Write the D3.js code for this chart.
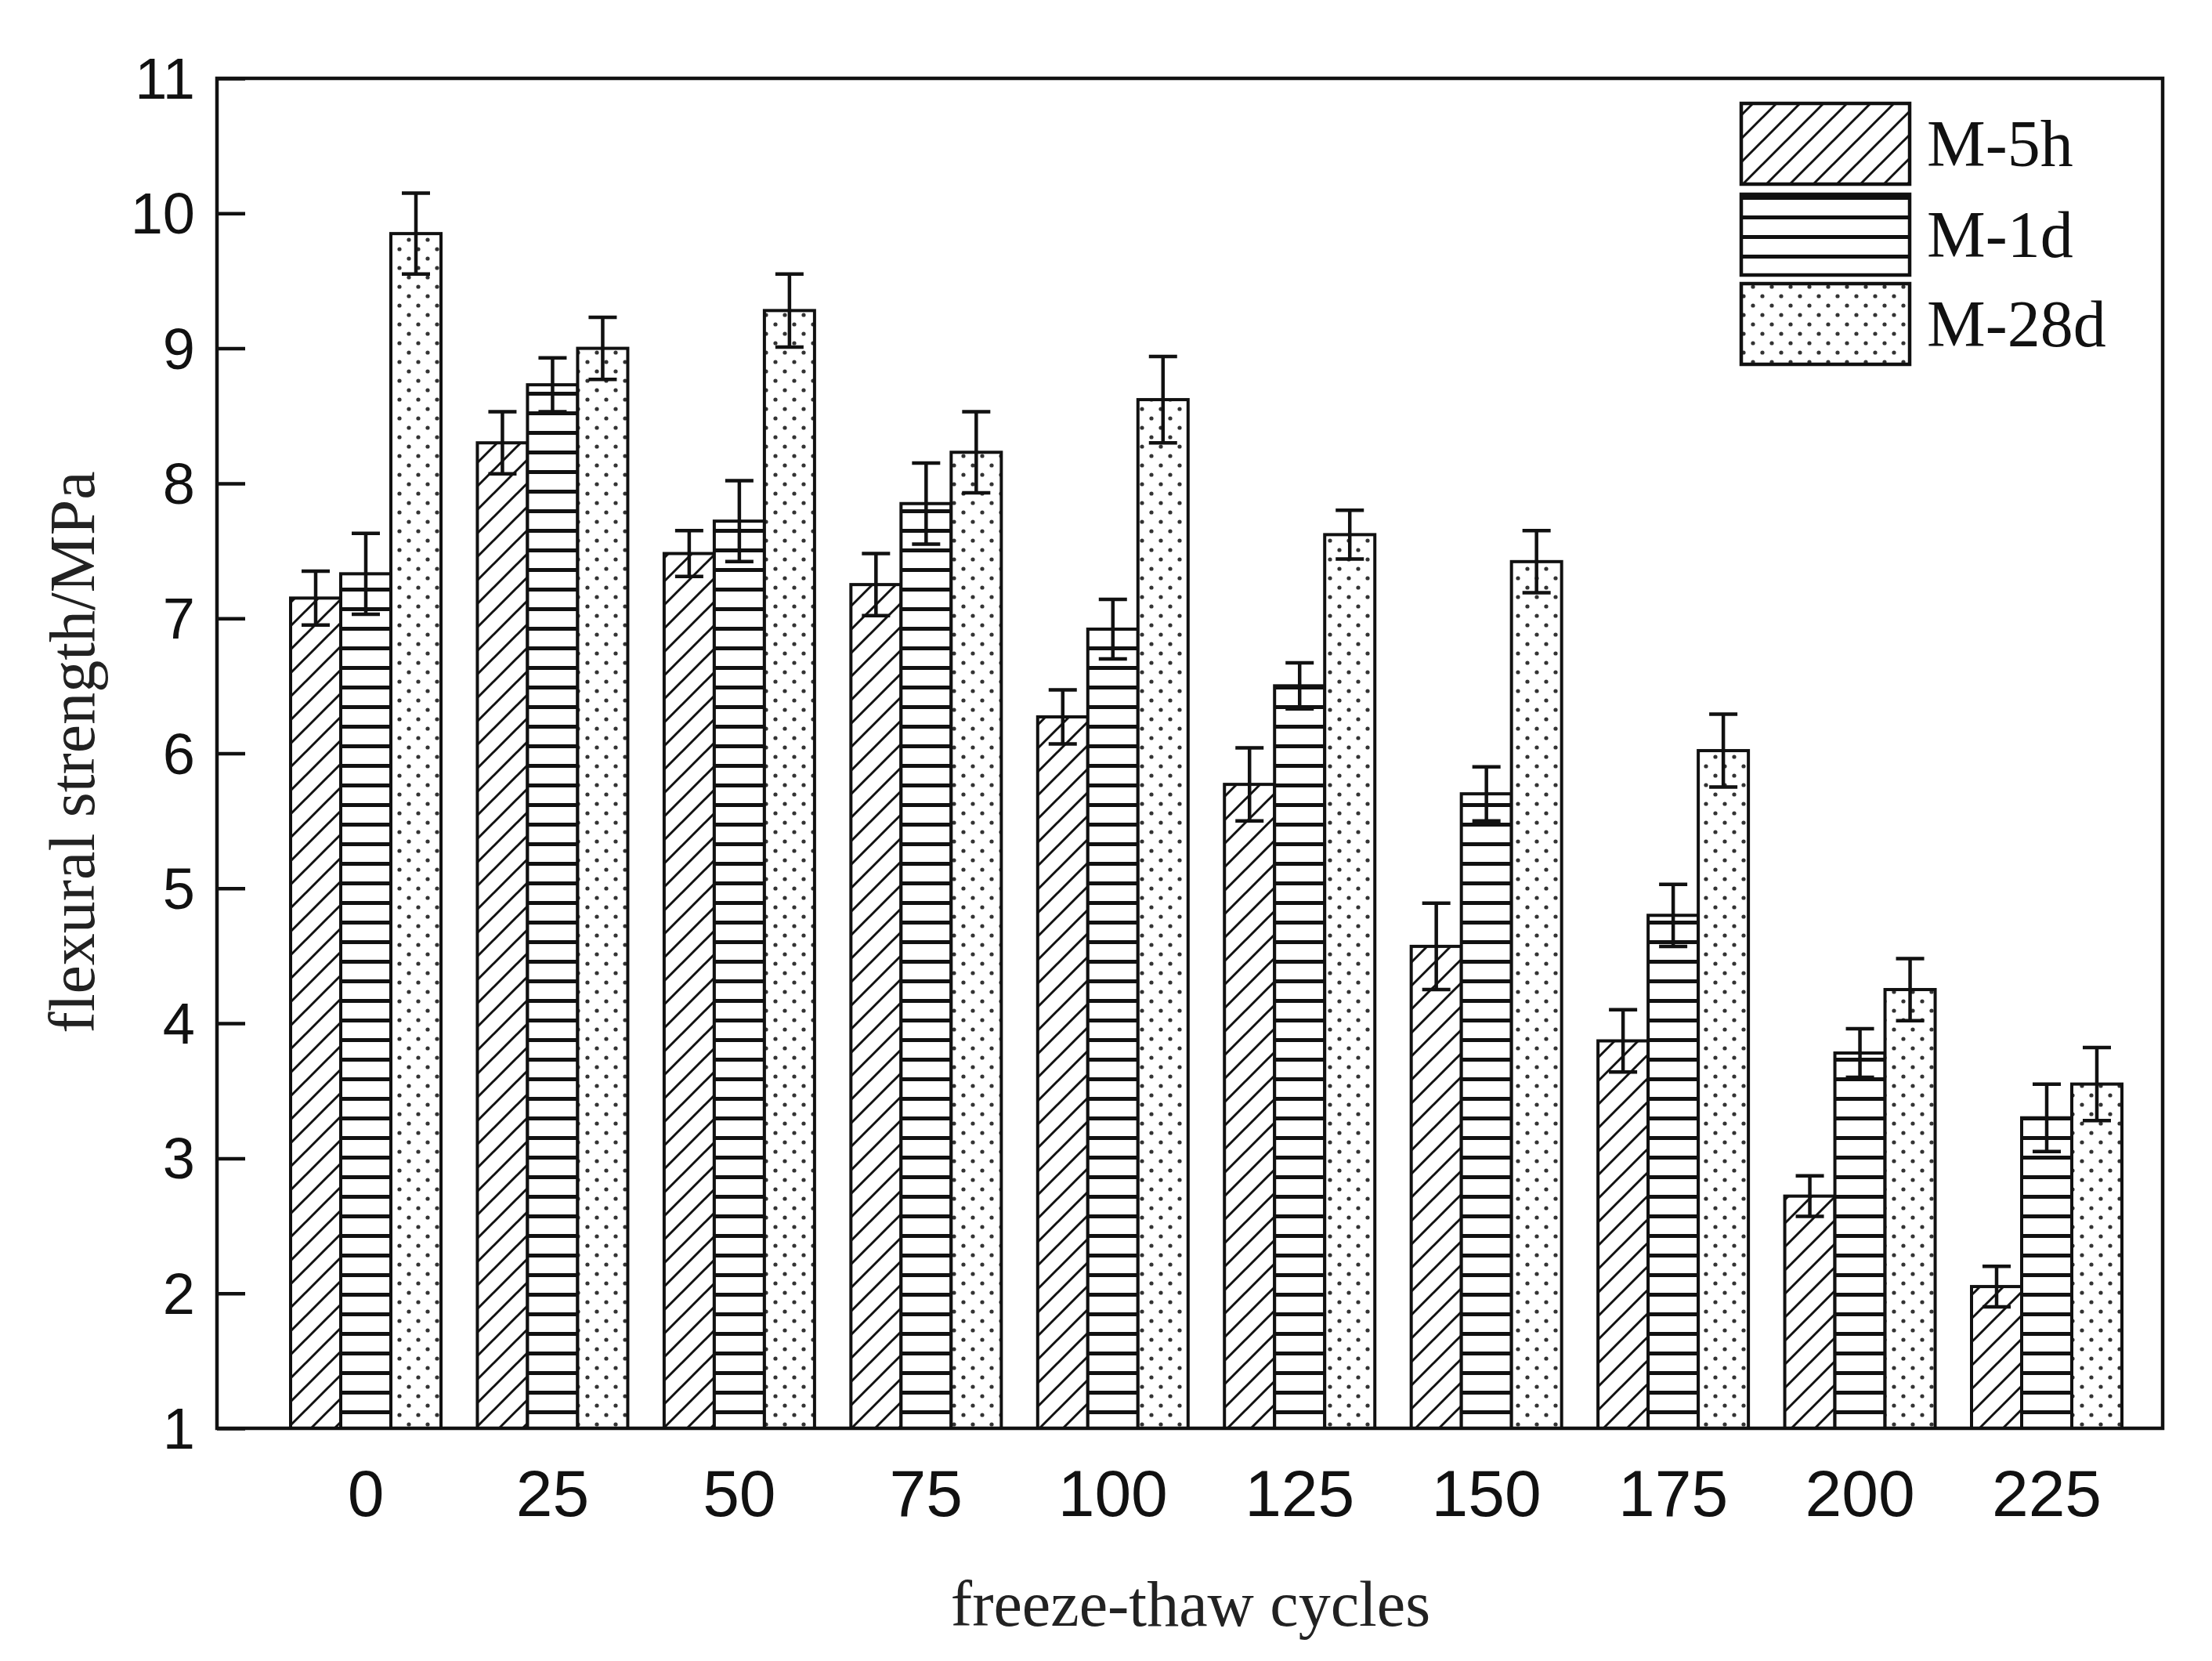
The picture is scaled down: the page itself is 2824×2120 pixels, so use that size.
<!DOCTYPE html>
<html><head><meta charset="utf-8">
<script src="https://cdn.jsdelivr.net/npm/d3@7/dist/d3.min.js"></script>
<style>body{margin:0;background:#fff}</style></head>
<body><svg id="c" width="2824" height="2120"></svg>
<script>
const categories = ["0","25","50","75","100","125","150","175","200","225"];
const seriesNames = ["M-5h","M-1d","M-28d"];
const m5h  = [7.15,8.30,7.48,7.25,6.27,5.77,4.57,3.87,2.72,2.05];
const m1d  = [7.33,8.73,7.72,7.85,6.92,6.50,5.70,4.80,3.78,3.30];
const m28d = [9.85,9.00,9.28,8.23,8.62,7.62,7.42,6.02,4.25,3.55];
const e5h  = [0.20,0.23,0.17,0.23,0.20,0.27,0.32,0.23,0.15,0.15];
const e1d  = [0.30,0.20,0.30,0.30,0.22,0.17,0.20,0.23,0.18,0.25];
const e28d = [0.30,0.23,0.27,0.30,0.32,0.18,0.23,0.27,0.23,0.27];
const yTicks = [1,2,3,4,5,6,7,8,9,10,11];

const svg = d3.select("#c");
const L=277,R=2761,T=100,B=1823;
const y = d3.scaleLinear().domain([1,11]).range([B,T]);
const x = d3.scalePoint().domain(categories).range([467,2613]);
const bw = 64;
const vals=[m5h,m1d,m28d], errs=[e5h,e1d,e28d];
const defs = svg.append("defs");
// patterns
const p0 = defs.append("pattern").attr("id","p0").attr("patternUnits","userSpaceOnUse").attr("width",30).attr("height",30);
p0.append("rect").attr("width",30).attr("height",30).attr("fill","#fff");
p0.append("path").attr("d","M-5,35 L35,-5 M-20,20 L20,-20 M10,50 L50,10").attr("stroke","#111").attr("stroke-width",3);
const p1 = defs.append("pattern").attr("id","p1").attr("patternUnits","userSpaceOnUse").attr("width",20).attr("height",25);
p1.append("rect").attr("width",20).attr("height",25).attr("fill","#fff");
p1.append("rect").attr("y",0).attr("width",20).attr("height",5).attr("fill","#111");
const p2 = defs.append("pattern").attr("id","p2").attr("patternUnits","userSpaceOnUse").attr("width",24).attr("height",24);
p2.append("rect").attr("width",24).attr("height",24).attr("fill","#fff");
[[6,6],[18,18]].forEach(d=>p2.append("circle").attr("cx",d[0]).attr("cy",d[1]).attr("r",2.6).attr("fill","#333"));

const g = svg.append("g");
seriesNames.forEach((s,si)=>{
  categories.forEach((c,i)=>{
    const x0 = x(c) - 1.5*bw + si*bw;
    const v = vals[si][i], e = errs[si][i];
    g.append("rect").attr("x",x0).attr("y",y(v)).attr("width",bw).attr("height",y(1)-y(v))
      .attr("fill",`url(#p${si})`).attr("stroke","#111").attr("stroke-width",4);
    const cx = x0+bw/2;
    g.append("path").attr("d",`M${cx},${y(v+e)}V${y(v-e)}M${cx-18},${y(v+e)}H${cx+18}M${cx-18},${y(v-e)}H${cx+18}`)
      .attr("stroke","#111").attr("stroke-width",4.5).attr("fill","none");
  });
});
// frame
svg.append("rect").attr("x",L).attr("y",T).attr("width",R-L).attr("height",B-T).attr("fill","none").attr("stroke","#111").attr("stroke-width",4.5);
const ya = svg.append("g").attr("transform",`translate(${L},0)`)
  .call(d3.axisRight(y).tickValues(yTicks).tickSize(36).tickFormat(""));
ya.select(".domain").remove();
ya.selectAll("line").attr("stroke","#111").attr("stroke-width",4.5);
yTicks.forEach(t=>svg.append("text").attr("x",L-28).attr("y",y(t)+26).attr("text-anchor","end")
  .attr("font-family","Liberation Sans, Arial").attr("font-size",74).attr("fill","#111").text(t));
categories.forEach(c=>svg.append("text").attr("x",x(c)).attr("y",1935).attr("text-anchor","middle")
  .attr("font-family","Liberation Sans, Arial").attr("font-size",84).attr("fill","#111").text(c));
svg.append("text").attr("x",1520).attr("y",2075).attr("text-anchor","middle")
  .attr("font-family","Liberation Serif, Times New Roman").attr("font-size",82).attr("fill","#222").text("freeze-thaw cycles");
svg.append("text").attr("transform","translate(120,960) rotate(-90)").attr("text-anchor","middle")
  .attr("font-family","Liberation Serif, Times New Roman").attr("font-size",82).attr("fill","#222").text("flexural strength/MPa");
// legend
const ly=[132,248,362];
seriesNames.forEach((s,si)=>{
  svg.append("rect").attr("x",2223).attr("y",ly[si]).attr("width",215).attr("height",103)
    .attr("fill",`url(#p${si})`).attr("stroke","#111").attr("stroke-width",4.5);
  svg.append("text").attr("x",2460).attr("y",ly[si]+80).attr("font-family","Liberation Serif, Times New Roman")
    .attr("font-size",84).attr("fill","#111").text(s);
});
</script></body></html>
